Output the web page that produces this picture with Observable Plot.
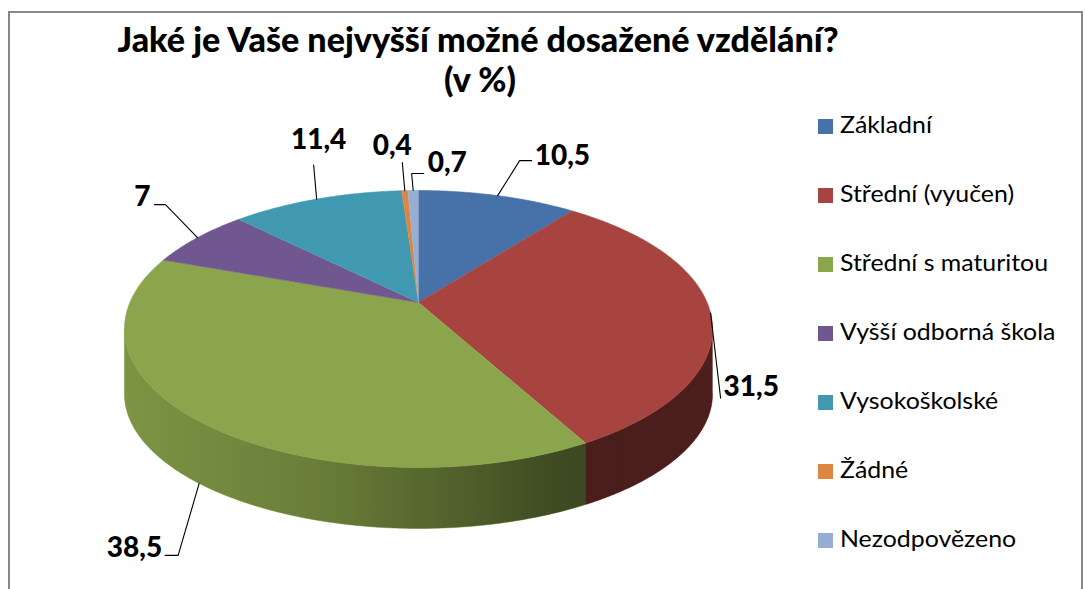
<!DOCTYPE html>
<html>
<head>
<meta charset="utf-8">
<script src="https://cdn.jsdelivr.net/npm/d3@7"></script>
<script src="https://cdn.jsdelivr.net/npm/@observablehq/plot@0.6"></script>
<style>
  body { margin: 0; background: #fff; }
  #wrap { position: relative; width: 1086px; height: 589px; overflow: hidden; background: #fff; font-family: Lato, "Open Sans", sans-serif; }
  #frame { position: absolute; left: 8px; top: 11px; width: 1075px; height: 640px; border: 2px solid #878787; box-sizing: border-box; }
  #chart { position: absolute; left: 0; top: 0; }
  .t { position: absolute; white-space: nowrap; line-height: 1; color: #000; }
  .title { font-weight: 900; font-size: 34px; }
  .leg { font-size: 23px; transform-origin: 0 50%; }
  .sw { position: absolute; width: 15px; height: 15px; }
</style>
</head>
<body>
<div id="wrap">
  <div id="frame"></div>
  <div id="chart"></div>
</div>
<script>
// ---- data ----
const categories = ["Základní", "Střední (vyučen)", "Střední s maturitou", "Vyšší odborná škola", "Vysokoškolské", "Žádné", "Nezodpovězeno"];
const values = [10.5, 31.5, 38.5, 7, 11.4, 0.4, 0.7];
const valueLabels = ["10,5", "31,5", "38,5", "7", "11,4", "0,4", "0,7"];
const titleLines = ["Jaké je Vaše nejvyšší možné dosažené vzdělání?", "(v %)"];

// ---- styles / layout ----
const palette = ["#4672a9", "#a8443f", "#8aa54b", "#71578f", "#4199b1", "#dc8640", "#97aed3"];
// perspective projection of the pie disk (screen pixels)
const CX = 418, S = 288.6, K = -0.1913, P = 75.65, Q = 302;
const wallH = v => 66 - 5 * v;
const TS = Math.acos(K); // silhouette angle of the side wall
// leader line layout, offsets from each slice's anchor point
const labelLayout = [
  {elbow: [22, -35], end: [34, -35], text: [37, -40], anchor: "start"},
  {elbow: [10, 85], end: [10, 85], text: [13, 74], anchor: "start"},
  {elbow: [-21, 72], end: [-34, 72], text: [-37, 65], anchor: "end"},
  {elbow: [-32, -33], end: [-43, -33], text: [-47, -41], anchor: "end"},
  {elbow: [-3, -34], end: [-3, -34], text: [2, -59], anchor: "middle"},
  {elbow: [-2.5, -28], end: [-2.5, -28], text: [-12.5, -45], anchor: "middle"},
  {elbow: [-1.5, -17], end: [10.5, -17], text: [14.5, -27], anchor: "start"}
];

function proj(theta) {
  const u = Math.sin(theta), v = -Math.cos(theta);
  const den = 1 + K * v;
  return {x: CX + S * u / den, y: (P * v + Q) / den, v};
}
function arcPts(a, b) {
  const n = Math.max(2, Math.ceil(Math.abs(b - a) / (Math.PI / 360)));
  return d3.range(n + 1).map(i => proj(a + (b - a) * i / n));
}
function wallPts(a, b) {
  const top = arcPts(a, b);
  const bottom = top.slice().reverse().map(p => ({x: p.x, y: p.y + wallH(p.v), v: p.v}));
  return top.concat(bottom);
}

const arcs = d3.pie().sort(null).value(d => d)(values);

const marks = [];
// side walls
arcs.forEach((d, i) => {
  const a = Math.max(d.startAngle, TS), b = Math.min(d.endAngle, 2 * Math.PI - TS);
  if (b > a) {
    marks.push(Plot.line(wallPts(a, b), {x: "x", y: "y", fill: palette[i], stroke: palette[i], strokeWidth: 0.6}));
  }
});
// wall shading overlay
marks.push(Plot.line(wallPts(TS, 2 * Math.PI - TS), {x: "x", y: "y", fill: "url(#wallShade)", stroke: "none"}));
// top faces
arcs.forEach((d, i) => {
  const center = {x: CX, y: Q};
  const pts = [center].concat(arcPts(d.startAngle, d.endAngle));
  marks.push(Plot.line(pts, {x: "x", y: "y", fill: palette[i], stroke: palette[i], strokeWidth: 0.6}));
});
// leader lines and labels
const leaders = [], labelRows = [];
arcs.forEach((d, i) => {
  const mid = (d.startAngle + d.endAngle) / 2;
  const p = proj(mid);
  const anchor = p.v > 0.5 ? {x: p.x, y: p.y + wallH(p.v)} : {x: p.x, y: p.y};
  const L = labelLayout[i];
  leaders.push({k: i, x: anchor.x, y: anchor.y});
  leaders.push({k: i, x: anchor.x + L.elbow[0], y: anchor.y + L.elbow[1]});
  leaders.push({k: i, x: anchor.x + L.end[0], y: anchor.y + L.end[1]});
  labelRows.push({text: valueLabels[i], x: anchor.x + L.text[0], y: anchor.y + L.text[1], anchor: L.anchor});
});
marks.push(Plot.line(leaders, {x: "x", y: "y", z: "k", stroke: "#000", strokeWidth: 1.1}));
for (const anc of ["start", "middle", "end"]) {
  marks.push(Plot.text(labelRows.filter(r => r.anchor === anc), {
    x: "x", y: "y", text: "text", textAnchor: anc,
    fontFamily: "Lato, 'Open Sans', sans-serif", fontSize: 28, fontWeight: 900, fill: "#000"
  }));
}

const svg = Plot.plot({
  width: 1086, height: 589, margin: 0,
  x: {domain: [0, 1086], range: [0, 1086], axis: null},
  y: {domain: [0, 589], range: [0, 589], axis: null},
  style: {background: "transparent", overflow: "visible"},
  marks
});
const defs = d3.select(svg).insert("defs", ":first-child");
const g = defs.append("linearGradient").attr("id", "wallShade")
  .attr("gradientUnits", "userSpaceOnUse").attr("x1", 123).attr("x2", 711).attr("y1", 0).attr("y2", 0);
[[0, 0.1], [0.35, 0.25], [0.52, 0.38], [0.74, 0.55], [0.81, 0.57], [1, 0.55]].forEach(([o, a]) => {
  g.append("stop").attr("offset", o).attr("stop-color", "#000").attr("stop-opacity", a);
});
document.getElementById("chart").appendChild(svg);

// ---- title ----
const wrap = document.getElementById("wrap");
const titleSpecs = [{text: titleLines[0], cx: 477.5, top: 22}, {text: titleLines[1], cx: 480, top: 62}];
const titleEls = titleSpecs.map(s => {
  const el = document.createElement("div");
  el.className = "t title";
  el.textContent = s.text;
  el.style.left = s.cx + "px";
  el.style.top = s.top + "px";
  wrap.appendChild(el);
  return el;
});
const tScale = 721 / titleEls[0].getBoundingClientRect().width;
titleEls.forEach(el => { el.style.transform = `translateX(-50%) scaleX(${tScale})`; });

// ---- legend ----
const legEls = categories.map((c, i) => {
  const sw = document.createElement("div");
  sw.className = "sw";
  sw.style.left = "818px";
  sw.style.top = (119 + 69 * i) + "px";
  sw.style.background = palette[i];
  wrap.appendChild(sw);
  const el = document.createElement("div");
  el.className = "t leg";
  el.textContent = c;
  el.style.left = "840px";
  el.style.top = (113 + 69 * i) + "px";
  wrap.appendChild(el);
  return el;
});
const lScale = 208 / legEls[2].getBoundingClientRect().width;
legEls.forEach(el => { el.style.transform = `scaleX(${lScale})`; });
</script>
</body>
</html>
